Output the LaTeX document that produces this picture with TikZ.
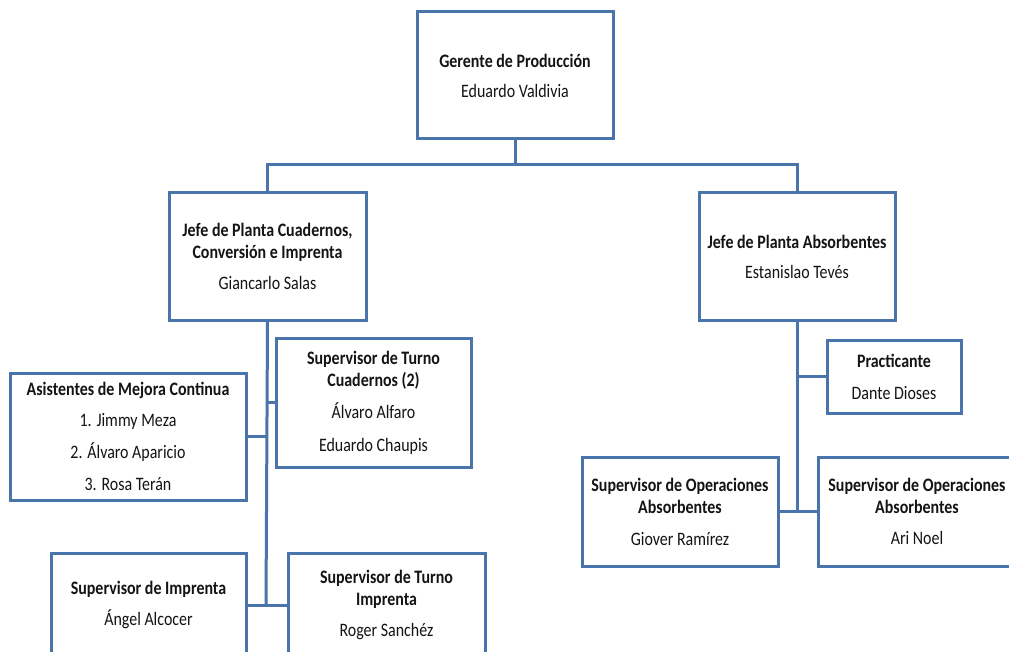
\documentclass[tikz,border=0pt]{standalone}
\usepackage{fontspec}
\setmainfont{Carlito}[FakeStretch=0.84]
\usepackage{tikz}
\usetikzlibrary{positioning}
\definecolor{boxblue}{HTML}{4A74AC}
\definecolor{txt}{HTML}{141414}

\begin{document}
\begin{tikzpicture}[x=1pt, y=-1pt,
  box/.style={draw=boxblue, line width=3pt, rectangle, align=center,
              inner sep=0pt, text=txt, font=\fontsize{19}{22}\selectfont},
  link/.style={draw=boxblue, line width=3pt}]
\clip (0,0) rectangle (1009,652);
\fill[white] (0,0) rectangle (1009,652);
%
\node[box, minimum width=196pt, minimum height=127pt] (ger) at (515,75.5)
  {\textbf{Gerente de Producción}\\[8pt] Eduardo Valdivia};
\node[box, minimum width=197pt, minimum height=127pt] (jc) at (267.5,256.5)
  {\textbf{Jefe de Planta Cuadernos,}\\ \textbf{Conversión e Imprenta}\\[9pt] Giancarlo Salas};
\node[box, minimum width=196pt, minimum height=127pt] (ja) at (797,256.5)
  {\textbf{Jefe de Planta Absorbentes}\\[8pt] Estanislao Tevés};
%
\node[box, minimum width=195pt, minimum height=129pt] (stc) at (373.5,402.5)
  {\textbf{Supervisor de Turno}\\ \textbf{Cuadernos (2)}\\[10pt] Álvaro Alfaro\\[11pt] Eduardo Chaupis};
\node[box, minimum width=236pt, minimum height=127pt] (asis) at (128,436.5)
  {\textbf{Asistentes de Mejora Continua}\\[9pt] 1. Jimmy Meza\\[10pt] 2. Álvaro Aparicio\\[10pt] 3. Rosa Terán};
\node[box, minimum width=195pt, minimum height=104pt] (simp) at (148.5,605)
  {\textbf{Supervisor de Imprenta}\\[9pt] Ángel Alcocer};
\node[box, minimum width=197pt, minimum height=104pt, right=39pt of simp] (stimp)
  {\textbf{Supervisor de Turno}\\ \textbf{Imprenta}\\[9pt] Roger Sanchéz};
%
\node[box, minimum width=134pt, minimum height=73pt] (prac) at (894,376.5)
  {\textbf{Practicante}\\[10pt] Dante Dioses};
\node[box, minimum width=196pt, minimum height=109pt] (sop1) at (680,511.5)
  {\textbf{Supervisor de Operaciones}\\ \textbf{Absorbentes}\\[10pt] Giover Ramírez};
\node[box, minimum width=198pt, minimum height=109pt, right=37pt of sop1] (sop2)
  {\textbf{Supervisor de Operaciones}\\ \textbf{Absorbentes}\\[9pt] Ari Noel};
%
\coordinate (bus) at (515,165);
\coordinate (ltrunk) at (266,606);
\draw[link] (ger.south) -- (bus);
\draw[link] (jc.north) |- (bus) -| (ja.north);
%
\draw[link] (jc.south) -- (ltrunk);
\draw[link] (stc.west) -- (stc.west -| jc.south);
\draw[link] (asis.east) -- (asis.east -| jc.south);
\draw[link] (simp.east) -- (stimp.west);
%
\draw[link] (ja.south) -- (ja.south |- sop1.east);
\draw[link] (prac.west) -- (prac.west -| ja.south);
\draw[link] (sop1.east) -- (sop2.west);
\end{tikzpicture}
\end{document}
